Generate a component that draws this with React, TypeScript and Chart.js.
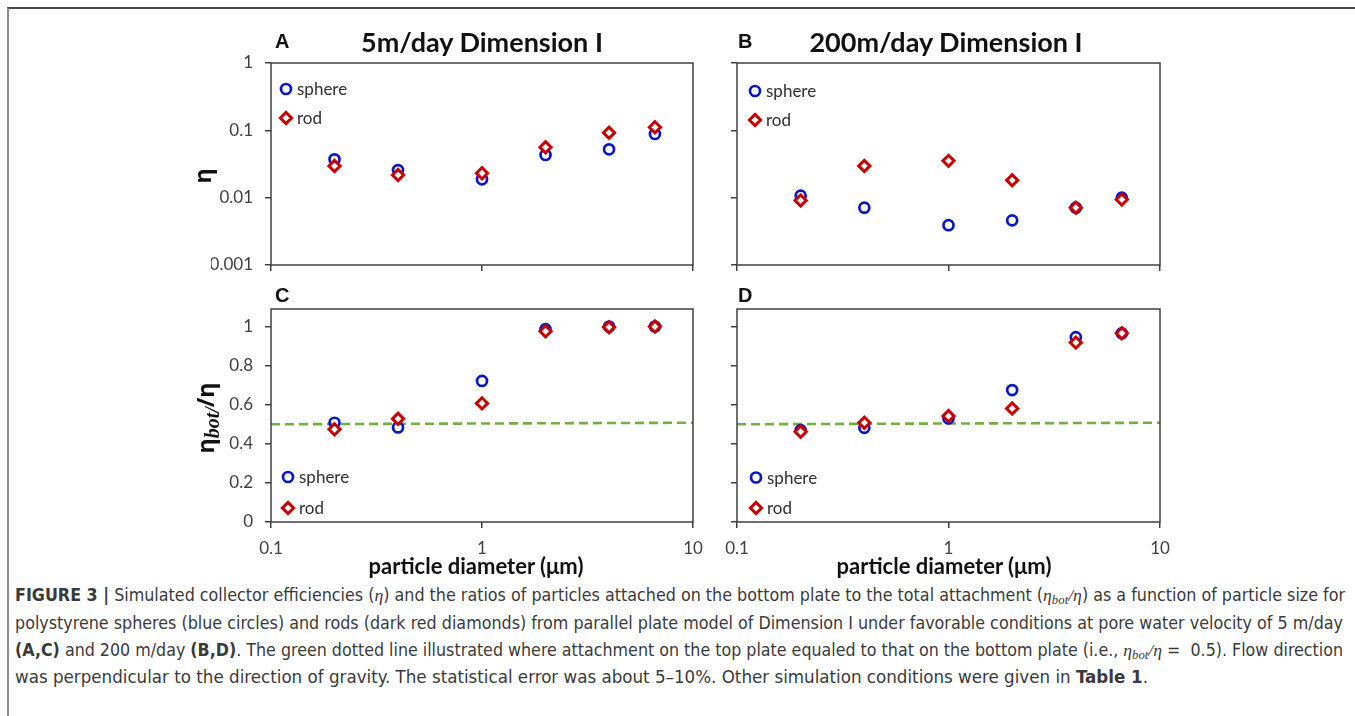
import React, { useEffect, useLayoutEffect, useRef } from 'react';
import { Chart, registerables } from 'chart.js';

Chart.register(...registerables);

// ---------------- data ----------------
const diameters = [0.2, 0.4, 1, 2, 4, 6.6];
const etaSphere5 = [0.0371, 0.0257, 0.0187, 0.043, 0.0523, 0.0882];
const etaRod5 = [0.0295, 0.0217, 0.023, 0.056, 0.0922, 0.111];
const etaSphere200 = [0.0107, 0.0071, 0.0039, 0.0046, 0.0071, 0.01];
const etaRod200 = [0.0091, 0.0296, 0.0352, 0.0181, 0.0071, 0.0094];
const ratioSphere5 = [0.508, 0.484, 0.722, 0.987, 1.0, 1.0];
const ratioRod5 = [0.474, 0.528, 0.607, 0.976, 0.997, 1.0];
const ratioSphere200 = [0.47, 0.482, 0.53, 0.675, 0.946, 0.966];
const ratioRod200 = [0.462, 0.508, 0.542, 0.581, 0.918, 0.966];
const halfLineX = [0.1, 10];
const halfLineY = [0.5, 0.508];
const xTicks = [0.1, 1, 10];
const etaTicks = [0.001, 0.01, 0.1, 1];
const ratioTicks = [0, 0.2, 0.4, 0.6, 0.8, 1];
const legendLabels = ['sphere', 'rod'];

// ---------------- styles ----------------
const SPHERE = '#0a16c8';
const ROD = '#c80000';
const GREEN = '#72b043';
const AXIS = '#404040';
const TICK_FONT = { family: 'Lato, sans-serif', size: 17 };
const SPHERE_R = 5;
const SPHERE_W = 2.7;
const ROD_R = 5.6;
const ROD_W = 3;

type PanelCfg = {
  area: { l: number; t: number; r: number; b: number };
  log: boolean;
  sphere: number[];
  rod: number[];
  xLabels: boolean;
  yLabels: boolean;
  legend: { dx: number; dy: number[] };
  refLine: boolean;
};

const panels: PanelCfg[] = [
  { area: { l: 271, t: 63, r: 693, b: 265 }, log: true, sphere: etaSphere5, rod: etaRod5, xLabels: false, yLabels: true, legend: { dx: 15, dy: [26, 55] }, refLine: false },
  { area: { l: 737, t: 63, r: 1160, b: 265 }, log: true, sphere: etaSphere200, rod: etaRod200, xLabels: false, yLabels: false, legend: { dx: 18, dy: [28, 57] }, refLine: false },
  { area: { l: 271, t: 309, r: 693, b: 522 }, log: false, sphere: ratioSphere5, rod: ratioRod5, xLabels: true, yLabels: true, legend: { dx: 17, dy: [168, 199] }, refLine: true },
  { area: { l: 737, t: 309, r: 1160, b: 522 }, log: false, sphere: ratioSphere200, rod: ratioRod200, xLabels: true, yLabels: false, legend: { dx: 19, dy: [168.5, 199] }, refLine: true },
];

const W_Y = 60;
const PAD_T = 26;
const PAD_R = 26;

const boxLegend = {
  id: 'boxLegend',
  afterDraw(chart: any, _args: any, opts: any) {
    const { ctx, chartArea: a } = chart;
    ctx.save();
    ctx.strokeStyle = AXIS;
    ctx.lineWidth = 1.5;
    ctx.strokeRect(a.left, a.top, a.right - a.left, a.bottom - a.top);
    // legend
    const x = a.left + opts.dx;
    ctx.font = '17px Lato, sans-serif';
    ctx.textBaseline = 'middle';
    ctx.textAlign = 'left';
    legendLabels.forEach((lab, i) => {
      const y = a.top + opts.dy[i];
      if (lab === 'sphere') {
        ctx.beginPath();
        ctx.arc(x, y, SPHERE_R, 0, Math.PI * 2);
        ctx.strokeStyle = SPHERE;
        ctx.lineWidth = SPHERE_W;
        ctx.stroke();
      } else {
        const r = ROD_R;
        ctx.beginPath();
        ctx.moveTo(x, y - r);
        ctx.lineTo(x + r, y);
        ctx.lineTo(x, y + r);
        ctx.lineTo(x - r, y);
        ctx.closePath();
        ctx.fillStyle = '#fff';
        ctx.fill();
        ctx.strokeStyle = ROD;
        ctx.lineWidth = ROD_W;
        ctx.stroke();
      }
      ctx.fillStyle = '#303030';
      ctx.fillText(lab, x + 11, y + 1);
    });
    ctx.restore();
  },
};

function Panel({ cfg }: { cfg: PanelCfg }) {
  const ref = useRef<HTMLCanvasElement>(null);
  const hx = cfg.xLabels ? 40 : 26;
  const width = cfg.area.r - cfg.area.l + W_Y + PAD_R;
  const height = cfg.area.b - cfg.area.t + PAD_T + hx;
  useEffect(() => {
    const datasets: any[] = [
      {
        label: 'rod',
        data: diameters.map((x, i) => ({ x, y: cfg.rod[i] })),
        showLine: false,
        pointStyle: 'rectRot',
        pointRadius: ROD_R,
        pointHoverRadius: ROD_R,
        pointBorderWidth: ROD_W,
        pointBorderColor: ROD,
        pointBackgroundColor: '#ffffff',
        order: 0,
      },
      {
        label: 'sphere',
        data: diameters.map((x, i) => ({ x, y: cfg.sphere[i] })),
        showLine: false,
        pointStyle: 'circle',
        pointRadius: SPHERE_R,
        pointHoverRadius: SPHERE_R,
        pointBorderWidth: SPHERE_W,
        pointBorderColor: SPHERE,
        pointBackgroundColor: 'rgba(255,255,255,0)',
        order: 1,
      },
    ];
    if (cfg.refLine) {
      datasets.push({
        label: 'half',
        data: halfLineX.map((x, i) => ({ x, y: halfLineY[i] })),
        showLine: true,
        borderColor: GREEN,
        borderWidth: 2.6,
        borderDash: [9, 5],
        pointRadius: 0,
        order: 2,
      });
    }
    const yTickVals = cfg.log ? etaTicks : ratioTicks;
    const chart = new Chart(ref.current!, {
      type: 'scatter',
      data: { datasets },
      plugins: [boxLegend],
      options: {
        responsive: false,
        animation: false,
        events: [],
        layout: { padding: { top: PAD_T, right: PAD_R, left: 0, bottom: 0 } },
        plugins: {
          legend: { display: false },
          tooltip: { enabled: false },
          boxLegend: cfg.legend,
        } as any,
        scales: {
          x: {
            type: 'logarithmic',
            min: 0.1,
            max: 10,
            afterBuildTicks: (s: any) => {
              s.ticks = xTicks.map((v) => ({ value: v }));
            },
            afterFit: (s: any) => {
              s.height = hx;
            },
            ticks: {
              display: cfg.xLabels,
              autoSkip: false,
              maxRotation: 0,
              padding: 10,
              color: AXIS,
              font: TICK_FONT,
              callback: (v: any) => String(v),
            },
            grid: { display: true, drawOnChartArea: false, drawTicks: true, tickLength: 6, color: AXIS, lineWidth: 1.5 },
            border: { display: false },
          },
          y: {
            type: cfg.log ? 'logarithmic' : 'linear',
            min: cfg.log ? 0.001 : 0,
            max: cfg.log ? 1 : 1.09,
            afterBuildTicks: (s: any) => {
              s.ticks = yTickVals.map((v) => ({ value: v }));
            },
            afterFit: (s: any) => {
              s.width = W_Y;
            },
            ticks: {
              display: cfg.yLabels,
              autoSkip: false,
              padding: 12,
              color: AXIS,
              font: TICK_FONT,
              callback: (v: any) => String(v),
            },
            grid: { display: true, drawOnChartArea: false, drawTicks: true, tickLength: 6, color: AXIS, lineWidth: 1.5 },
            border: { display: false },
          },
        } as any,
      },
    } as any);
    return () => chart.destroy();
  }, [cfg]);
  return (
    <canvas
      ref={ref}
      width={width}
      height={height}
      style={{ position: 'absolute', left: cfg.area.l - W_Y, top: cfg.area.t - PAD_T, width, height }}
    />
  );
}

const abs = (x: number, y: number, extra: React.CSSProperties = {}): React.CSSProperties => ({
  position: 'absolute',
  left: x,
  top: y,
  whiteSpace: 'nowrap',
  lineHeight: 1,
  ...extra,
});

const mathEta: React.CSSProperties = { fontFamily: "'Liberation Serif', serif", fontStyle: 'italic' };
const sub: React.CSSProperties = { fontSize: '0.72em', verticalAlign: '-0.28em', lineHeight: 0 };

function Caption() {
  const refs = [useRef<HTMLSpanElement>(null), useRef<HTMLSpanElement>(null), useRef<HTMLSpanElement>(null), useRef<HTMLSpanElement>(null)];
  const targets = [1330, 1328, 1328, 1133];
  useLayoutEffect(() => {
    const fit = () => {
      refs.forEach((r, i) => {
        const el = r.current;
        if (!el) return;
        el.style.transform = 'none';
        const w = el.getBoundingClientRect().width;
        if (w > 0) el.style.transform = `scaleX(${targets[i] / w})`;
      });
    };
    fit();
    if ((document as any).fonts && (document as any).fonts.ready) (document as any).fonts.ready.then(fit);
  }, []);
  const lineStyle = (y: number): React.CSSProperties => ({
    position: 'absolute',
    left: 15,
    top: y - 10,
    height: 20,
    lineHeight: '20px',
    whiteSpace: 'nowrap',
    display: 'inline-block',
    transformOrigin: '0 50%',
  });
  const eb = (
    <>
      <span style={mathEta}>η</span>
      <span style={{ ...sub, ...mathEta }}>bot</span>
      <span style={mathEta}>/η</span>
    </>
  );
  return (
    <div style={{ fontFamily: "'Liberation Sans Narrow', 'DejaVu Sans Condensed', 'Roboto', sans-serif", fontSize: 17, color: '#3a3a3a' }}>
      <span ref={refs[0]} style={lineStyle(595)}>
        <b>FIGURE 3 |</b> Simulated collector efficiencies (<span style={mathEta}>η</span>) and the ratios of particles attached on the bottom plate to the total attachment ({eb}) as a function of particle size for
      </span>
      <span ref={refs[1]} style={lineStyle(623)}>
        polystyrene spheres (blue circles) and rods (dark red diamonds) from parallel plate model of Dimension I under favorable conditions at pore water velocity of 5 m/day
      </span>
      <span ref={refs[2]} style={lineStyle(650)}>
        <b>(A,C)</b> and 200 m/day <b>(B,D)</b>. The green dotted line illustrated where attachment on the top plate equaled to that on the bottom plate (i.e., {eb} = &nbsp;0.5). Flow direction
      </span>
      <span ref={refs[3]} style={lineStyle(677)}>
        was perpendicular to the direction of gravity. The statistical error was about 5–10%. Other simulation conditions were given in <b>Table 1</b>.
      </span>
    </div>
  );
}

export default function App() {
  const letter: React.CSSProperties = { fontFamily: "'Liberation Sans', Arial, sans-serif", fontWeight: 700, fontSize: 20, color: '#111', transform: 'translateY(-50%)' };
  const title: React.CSSProperties = { fontFamily: 'Lato, sans-serif', fontWeight: 700, fontSize: 27, color: '#111', transform: 'translate(-50%,-50%)' };
  const xTitle: React.CSSProperties = { fontFamily: 'Lato, sans-serif', fontWeight: 700, fontSize: 22, color: '#111', transform: 'translate(-50%,-50%)' };
  const yTitle: React.CSSProperties = { fontFamily: "'Open Sans', 'DejaVu Sans', sans-serif", fontWeight: 700, fontSize: 23, color: '#111', transform: 'translate(-50%,-50%) rotate(-90deg)' };
  return (
    <div style={{ position: 'absolute', left: 0, top: 0, width: 1355, height: 716, background: '#fff', overflow: 'hidden' }}>
      <div style={{ position: 'absolute', left: 7, top: 7, width: 1400, height: 800, borderTop: '2px solid #4a4a4a', borderLeft: '2px solid #8c8c8c' }} />
      {panels.map((p, i) => (
        <Panel key={i} cfg={p} />
      ))}
      <div style={abs(275, 41, letter)}>A</div>
      <div style={abs(738, 41, letter)}>B</div>
      <div style={abs(275, 295, letter)}>C</div>
      <div style={abs(738, 295, letter)}>D</div>
      <div style={abs(482, 41, title)}>5m/day Dimension I</div>
      <div style={abs(946, 41, title)}>200m/day Dimension I</div>
      <div style={abs(202, 176, yTitle)}>η</div>
      <div style={abs(205, 418, yTitle)}>
        η
        <span style={{ fontFamily: "'Liberation Serif', serif", fontStyle: 'italic', fontWeight: 700, fontSize: 20, verticalAlign: '-0.25em', lineHeight: 0 }}>bot/</span>
        /η
      </div>
      <div style={abs(476, 566, xTitle)}>particle diameter (μm)</div>
      <div style={abs(944, 566, xTitle)}>particle diameter (μm)</div>
      <Caption />
    </div>
  );
}
